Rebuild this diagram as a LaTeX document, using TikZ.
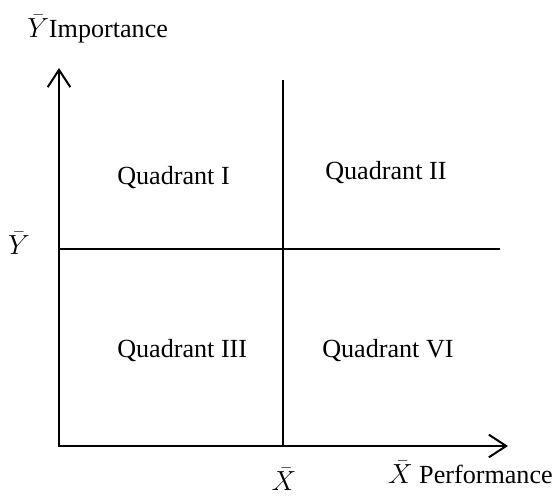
\documentclass[tikz,border=0pt]{standalone}
\usepackage{fontspec}
\setmainfont{Liberation Serif}
\usepackage{tikz}
\usetikzlibrary{arrows.meta}

\tikzset{
  axis/.style={line width=1.5pt, -{Straight Barb[length=13pt,width=17pt,line width=1.5pt]}},
  split/.style={line width=1pt},
  lbl/.style={inner sep=0pt, font=\fontsize{19.6}{23}\selectfont}
}

\begin{document}
\begin{tikzpicture}[x=0.75pt, y=-0.75pt]
\useasboundingbox (0,0) rectangle (556,496);
% axes
\coordinate (O) at (59,446);
\coordinate (ytip) at (59,68);
\coordinate (xtip) at (508,446);
\draw[axis] (O) -- (ytip);
\draw[axis] ([xshift=-0.75pt]O) -- (xtip);
% mean lines
\coordinate (vtop) at (283,80);
\coordinate (vbot) at (283,446);
\coordinate (hl) at (59,249);
\coordinate (hr) at (500,249);
\draw[split] (vtop) -- (vbot);
\draw[line width=1.5pt] (hl) -- (hr);
% labels
\node[lbl, anchor=base west] (ytitle) at (27,37) {$\bar{Y}$Importance};
\node[lbl] (ymean) at (19,243) {$\bar{Y}$};
\node[lbl] (xmean) at (284,479) {$\bar{X}$};
\node[lbl, anchor=base east] (xtitle) at (553,483) {$\bar{X}$ Performance};
% quadrants
\node[lbl, anchor=base west] (q1) at (117,184) {Quadrant I};
\node[lbl, anchor=base west] (q2) at (325,179) {Quadrant II};
\node[lbl, anchor=base west] (q3) at (117,357) {Quadrant III};
\node[lbl, anchor=base west] (q4) at (322,357) {Quadrant VI};
\end{tikzpicture}
\end{document}
